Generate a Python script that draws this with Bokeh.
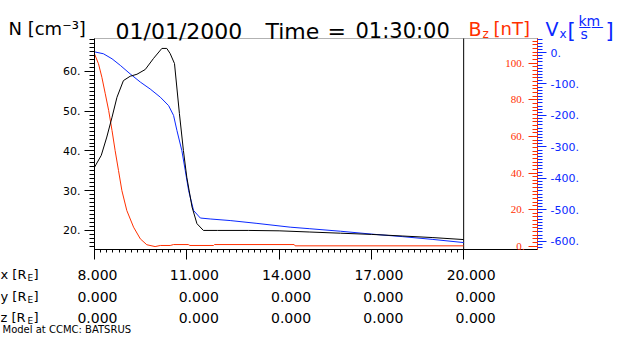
from bokeh.plotting import figure
from bokeh.models import (Range1d, LinearAxis, FixedTicker, SingleIntervalTicker,
                          PrintfTickFormatter, Label, LabelSet, ColumnDataSource, BoxAnnotation)
from bokeh.embed import file_html
from bokeh.resources import INLINE

FONT = "DejaVu Sans"
RED = "#ff3000"
BLUE = "#0a28ff"

# ---- data -------------------------------------------------------------
x_n = [8.00, 8.22, 8.40, 8.57, 8.73, 8.94, 9.16, 9.38, 9.65, 9.92, 10.19, 10.35,
       10.46, 10.60, 10.76, 10.89, 11.00, 11.17, 11.33, 11.54, 12.0, 13.0, 14.0,
       15.0, 16.0, 17.0, 18.0, 19.0, 20.0]
dens = [35.9, 38.9, 43.5, 48.5, 53.5, 57.7, 58.8, 59.3, 60.5, 63.3, 65.8, 65.8,
        64.5, 62.0, 49.4, 40.1, 33.4, 25.9, 21.7, 20.0, 20.0, 20.0, 19.9,
        19.6, 19.3, 19.0, 18.6, 18.2, 17.7]

x_v = [8.00, 8.29, 8.57, 8.84, 9.16, 9.49, 9.81, 10.14, 10.41, 10.57, 10.68, 10.84,
       10.95, 11.06, 11.22, 11.44, 11.76, 12.41, 13.28, 14.36, 15.0, 16.0, 17.0,
       18.0, 19.0, 20.0]
vx = [2, -4, -20, -41, -68, -94, -116, -142, -169, -200, -248, -312,
      -375, -439, -502, -526, -529, -534, -543, -555, -560, -568, -577,
      -585, -594, -604]

x_b = [8.00, 8.13, 8.24, 8.35, 8.46, 8.57, 8.67, 8.78, 8.89, 9.05, 9.27, 9.49,
       9.70, 9.97, 10.14, 10.46, 10.57, 11.05, 11.10, 11.87, 11.90, 14.49, 14.52, 20.0]
bz = [105.1, 99.7, 92.3, 83.3, 74.2, 63.2, 52.3, 41.4, 30.4, 19.5, 10.4, 4.0,
      0.8, -0.2, 0.4, 0.4, 0.9, 0.9, 0.4, 0.4, 0.9, 0.9, 0.2, 0.2]

x_ticks = [8, 11, 14, 17, 20]
x_pos = [8.0, 11.0, 14.0, 17.0, 20.0]
y_pos = [0.0, 0.0, 0.0, 0.0, 0.0]
z_pos = [0.0, 0.0, 0.0, 0.0, 0.0]
bz_ticks = [0, 20, 40, 60, 80, 100]

title_date = "01/01/2000"
title_time = "01:30:00"
model_text = "Model at CCMC: BATSRUS"

# ---- layout: inner plot box inside a full-canvas frame ----------------
W, H = 614, 334
PX_L, PX_R, PX_T, PX_B = 94, 77, 38, 85
INNER_W = W - PX_L - PX_R
INNER_H = H - PX_T - PX_B

X_START, X_END = 8.0, 22.4
N_START, N_END = 15.2, 68.3
BZ_START, BZ_END = -1.8, 113.5
VX_START, VX_END = -626.0, 44.5


def outer(a, b, lo_px, hi_px, inner_px):
    s = (b - a) / inner_px
    return Range1d(a - lo_px * s, b + hi_px * s)


p = figure(width=W, height=H, output_backend="svg", toolbar_location=None,
           x_range=outer(X_START, X_END, PX_L, PX_R, INNER_W),
           y_range=outer(N_START, N_END, PX_B, PX_T, INNER_H),
           x_axis_location=None, y_axis_location=None, min_border=0)
p.grid.visible = False
p.outline_line_color = None
p.extra_y_ranges = {"bz": outer(BZ_START, BZ_END, PX_B, PX_T, INNER_H),
                    "vx": outer(VX_START, VX_END, PX_B, PX_T, INNER_H)}

# plot box
p.add_layout(BoxAnnotation(left=X_START, right=X_END, bottom=N_START, top=N_END,
                           fill_alpha=0, line_color="black", line_width=1,
                           level="underlay"))

# bottom axis: ticks only (labels are in the table below)
minor_x = [round(X_START + 0.2 * i, 1) for i in range(0, 61)]
p.add_layout(LinearAxis(fixed_location=N_START, bounds=(X_START, X_END),
                        ticker=FixedTicker(ticks=[], minor_ticks=minor_x),
                        minor_tick_out=3, minor_tick_in=0, axis_line_color="black"), "below")
p.add_layout(LinearAxis(fixed_location=N_START, bounds=(X_START, X_END),
                        ticker=FixedTicker(ticks=[], minor_ticks=x_ticks),
                        minor_tick_out=10, minor_tick_in=0, axis_line_color="black"), "below")

# left axis
p.add_layout(LinearAxis(fixed_location=X_START, bounds=(N_START, N_END),
                        ticker=SingleIntervalTicker(interval=10, num_minor_ticks=10),
                        formatter=PrintfTickFormatter(format="%d."),
                        major_tick_out=10, major_tick_in=0, minor_tick_out=5, minor_tick_in=0,
                        major_label_standoff=4, major_label_text_font=FONT,
                        major_label_text_font_size="11px", major_label_text_color="black",
                        axis_line_color="black"), "left")

# red axis: ticks inward
p.add_layout(LinearAxis(fixed_location=X_END, bounds=(BZ_START, BZ_END), y_range_name="bz",
                        ticker=FixedTicker(ticks=[], minor_ticks=list(range(0, 114, 2))),
                        minor_tick_in=5, minor_tick_out=0,
                        axis_line_color=RED, minor_tick_line_color=RED), "right")
p.add_layout(LinearAxis(fixed_location=X_END, bounds=(BZ_START, BZ_END), y_range_name="bz",
                        ticker=FixedTicker(ticks=[], minor_ticks=bz_ticks),
                        minor_tick_in=9, minor_tick_out=0,
                        axis_line_color=RED, minor_tick_line_color=RED), "right")

# blue axis: ticks outward
p.add_layout(LinearAxis(fixed_location=X_END, bounds=(VX_START, VX_END), y_range_name="vx",
                        ticker=SingleIntervalTicker(interval=100, num_minor_ticks=10),
                        formatter=PrintfTickFormatter(format="%d."),
                        major_tick_in=0, major_tick_out=9, minor_tick_in=0, minor_tick_out=5,
                        axis_line_color=None, major_tick_line_color=BLUE,
                        minor_tick_line_color=BLUE, major_label_text_color=BLUE,
                        major_label_text_font=FONT, major_label_text_font_size="11px",
                        major_label_standoff=4), "right")

# red tick labels inside the box
src = ColumnDataSource(dict(x=[X_END] * len(bz_ticks), y=bz_ticks,
                            t=[f"{v}." for v in bz_ticks]))
p.add_layout(LabelSet(x="x", y="y", text="t", source=src, y_range_name="bz",
                      x_offset=-13, text_align="right", text_baseline="middle",
                      text_color=RED, text_font=FONT, text_font_size="11px"))

# vertical line at the last x tick
p.segment(x0=[x_ticks[-1]], y0=[N_START], x1=[x_ticks[-1]], y1=[N_END],
          line_color="black", line_width=1)

# curves
p.line(x_b, bz, color=RED, line_width=1, y_range_name="bz")
p.line(x_v, vx, color=BLUE, line_width=1, y_range_name="vx")
p.line(x_n, dens, color="black", line_width=1)


def lab(text, xoff, yoff, size, color="black", top=True, align="left", x=X_START):
    p.add_layout(Label(x=x, y=N_END if top else N_START, x_offset=xoff, y_offset=yoff,
                       text=text, text_font=FONT, text_font_size=f"{size}px",
                       text_color=color, text_align=align, text_baseline="alphabetic"))


# titles (offsets relative to the box's left / top edge)
lab("N [cm⁻³]", -86, 10.5, 18)
lab(title_date, 21, 7.3, 22)
lab("Time", 171, 7.3, 22)
lab("=", 233, 7.3, 22)
lab(title_time, 261, 7.3, 21)

lab("B", 374, 10, 19, RED)
lab("z", 388, 5, 12, RED)
lab("[nT]", 399, 10, 18, RED)

lab("V", 451, 10, 19, BLUE)
lab("x", 465, 5, 12, BLUE)
lab("[", 473, 8, 21, BLUE)
lab("km", 484, 18, 14, BLUE)
lab("——", 484, 12, 12.5, BLUE)
lab("s", 486, 5, 14, BLUE)
lab("]", 511, 8, 21, BLUE)

# table below the plot
row_offsets = [-25, -47, -68]
col_offsets = [23, 32, 32, 32, 32]
for name, vals, yoff in zip(["x", "y", "z"], [x_pos, y_pos, z_pos], row_offsets):
    lab(name + " [R", -94, yoff, 13, top=False)
    lab("E", -94 + 27, yoff - 3, 9, top=False)
    lab("]", -94 + 33, yoff, 13, top=False)
    for xv, v, off in zip(x_ticks, vals, col_offsets):
        lab(f"{v:.3f}", off, yoff, 14, top=False, align="right", x=xv)

lab(model_text, -92, -79.5, 10, top=False)

open("out.html", "w").write(file_html(p, INLINE))
